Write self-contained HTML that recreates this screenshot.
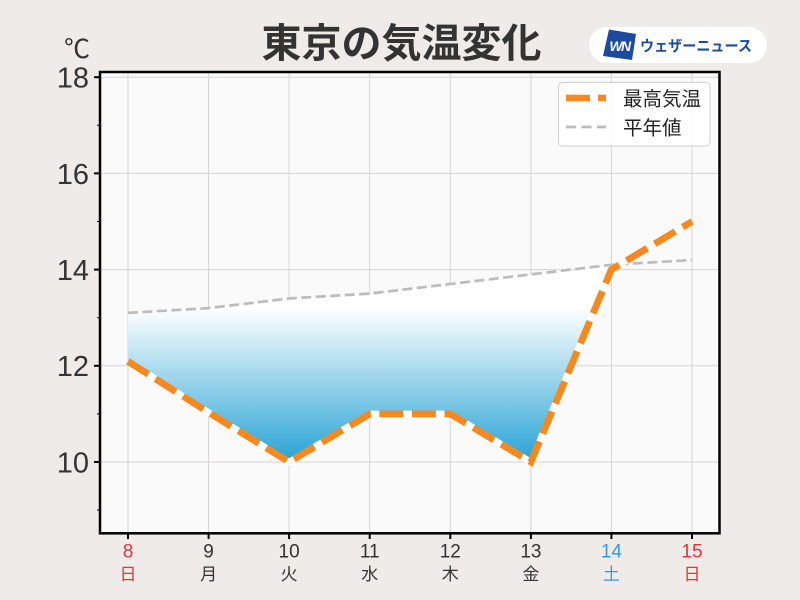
<!DOCTYPE html>
<html><head><meta charset="utf-8"><style>
html,body{margin:0;padding:0;background:#eeebe9;}
svg{display:block;}
</style></head><body>
<svg width="800" height="600" viewBox="0 0 800 600" xmlns="http://www.w3.org/2000/svg">
<defs>
<linearGradient id="g" gradientUnits="userSpaceOnUse" x1="0" y1="265" x2="0" y2="462">
<stop offset="0" stop-color="#ffffff"/>
<stop offset="0.22" stop-color="#ffffff"/>
<stop offset="1" stop-color="#27a3d5"/>
</linearGradient>
<clipPath id="ax"><rect x="100" y="72" width="619.5" height="461.3"/></clipPath>
</defs>
<rect width="800" height="600" fill="#eeebe9"/>
<rect x="100" y="72" width="619.5" height="461.3" fill="#fbfafa"/>
<g stroke="#d6d3d3" stroke-width="1">
<line x1="128" y1="72" x2="128" y2="533"/>
<line x1="208.6" y1="72" x2="208.6" y2="533"/>
<line x1="289.1" y1="72" x2="289.1" y2="533"/>
<line x1="369.7" y1="72" x2="369.7" y2="533"/>
<line x1="450.3" y1="72" x2="450.3" y2="533"/>
<line x1="530.9" y1="72" x2="530.9" y2="533"/>
<line x1="611.4" y1="72" x2="611.4" y2="533"/>
<line x1="692" y1="72" x2="692" y2="533"/>
<line x1="100" y1="77.2" x2="720" y2="77.2"/>
<line x1="100" y1="173.4" x2="720" y2="173.4"/>
<line x1="100" y1="269.6" x2="720" y2="269.6"/>
<line x1="100" y1="365.8" x2="720" y2="365.8"/>
<line x1="100" y1="462" x2="720" y2="462"/>
</g>
<g clip-path="url(#ax)">
<polygon fill="url(#g)" points="128,314 208.6,309 289.1,299.5 369.7,294.6 450.3,285 530.9,275.4 607.6,266.3 530.9,462 450.3,413.9 369.7,413.9 289.1,462 208.6,412.5 128,361.4"/>
<polyline fill="none" stroke="#bdbbbb" stroke-width="2.7" stroke-dasharray="10,4.5" points="128,312.9 208.6,308.1 289.1,298.5 369.7,293.6 450.3,284 530.9,274.4 611.4,264.8 692,260"/>
<polyline fill="none" stroke="#ffffff" stroke-width="6.5" stroke-linejoin="round" points="128,361.4 208.6,412.5 289.1,462 369.7,413.9 450.3,413.9 530.9,462 611.4,269.6 692,221.5"/>
<polyline fill="none" stroke="#f5881e" stroke-width="6.8" stroke-dasharray="24,8.6" points="128,361.4 208.6,412.5 289.1,462 369.7,413.9 450.3,413.9 530.9,462 611.4,269.6 692,221.5"/>
</g>
<rect x="100" y="72" width="619.5" height="461.3" fill="none" stroke="#000" stroke-width="2.5"/>
<g stroke="#000" stroke-width="2">
<line x1="94" y1="77.2" x2="100" y2="77.2"/>
<line x1="94" y1="173.4" x2="100" y2="173.4"/>
<line x1="94" y1="269.6" x2="100" y2="269.6"/>
<line x1="94" y1="365.8" x2="100" y2="365.8"/>
<line x1="94" y1="462" x2="100" y2="462"/>
<line x1="128" y1="533" x2="128" y2="539"/>
<line x1="208.6" y1="533" x2="208.6" y2="539"/>
<line x1="289.1" y1="533" x2="289.1" y2="539"/>
<line x1="369.7" y1="533" x2="369.7" y2="539"/>
<line x1="450.3" y1="533" x2="450.3" y2="539"/>
<line x1="530.9" y1="533" x2="530.9" y2="539"/>
<line x1="611.4" y1="533" x2="611.4" y2="539"/>
<line x1="692" y1="533" x2="692" y2="539"/>
</g>
<g stroke="#000" stroke-width="1">
<line x1="97" y1="125.3" x2="100" y2="125.3"/>
<line x1="97" y1="221.5" x2="100" y2="221.5"/>
<line x1="97" y1="317.7" x2="100" y2="317.7"/>
<line x1="97" y1="413.9" x2="100" y2="413.9"/>
<line x1="97" y1="510.1" x2="100" y2="510.1"/>
</g>
<g font-family="Liberation Sans, sans-serif" font-size="29" fill="#333" text-anchor="end">
<text x="89" y="87.6">18</text>
<text x="89" y="183.8">16</text>
<text x="89" y="280">14</text>
<text x="89" y="376.2">12</text>
<text x="89" y="472.4">10</text>
</g>
<text x="90" y="58" font-family="'Noto Sans CJK JP', sans-serif" font-size="26" fill="#333" text-anchor="end">℃</text>
<g font-family="Liberation Sans, sans-serif" font-size="19" text-anchor="middle" fill="#333">
<text x="128" y="557.7" fill="#e0353c">8</text>
<text x="208.6" y="557.7">9</text>
<text x="289.1" y="557.7">10</text>
<text x="369.7" y="557.7">11</text>
<text x="450.3" y="557.7">12</text>
<text x="530.9" y="557.7">13</text>
<text x="611.4" y="557.7" fill="#3399e3">14</text>
<text x="692" y="557.7" fill="#e0353c">15</text>
</g>
<g font-family="Liberation Sans, 'Noto Sans CJK JP', sans-serif" font-size="17" text-anchor="middle" fill="#333">
<text x="128" y="580" fill="#e0353c">日</text>
<text x="208.6" y="580">月</text>
<text x="289.1" y="580">火</text>
<text x="369.7" y="580">水</text>
<text x="450.3" y="580">木</text>
<text x="530.9" y="580">金</text>
<text x="611.4" y="580" fill="#3399e3">土</text>
<text x="692" y="580" fill="#e0353c">日</text>
</g>
<rect x="558.5" y="82.5" width="151.5" height="63.5" rx="4" fill="#ffffff" fill-opacity="0.85" stroke="#d0cece" stroke-width="1"/>
<line x1="566" y1="98" x2="606" y2="98" stroke="#f5881e" stroke-width="6.5" stroke-dasharray="24,8"/>
<line x1="566" y1="127" x2="606" y2="127" stroke="#bdbbbb" stroke-width="2.7" stroke-dasharray="10,5.5"/>
<g font-family="Liberation Sans, 'Noto Sans CJK JP', sans-serif" font-size="19.5" fill="#222">
<text x="623" y="105.5">最高気温</text>
<text x="623" y="134.5">平年値</text>
</g>
<text x="401.5" y="57" font-family="Liberation Sans, 'Noto Sans CJK JP', sans-serif" font-size="40" font-weight="bold" fill="#333" text-anchor="middle">東京の気温変化</text>
<rect x="589" y="27" width="178" height="36" rx="18" fill="#ffffff"/>
<polygon points="609,29.5 636,34 632,60 603,56" fill="#1b4a9e"/>
<text x="619.5" y="51" font-family="Liberation Sans, sans-serif" font-size="14" font-weight="bold" font-style="italic" fill="#ffffff" text-anchor="middle" letter-spacing="-1.5">WN</text>
<text x="640" y="51" font-family="Liberation Sans, 'Noto Sans CJK JP', sans-serif" font-size="15" font-weight="bold" fill="#1b4a9e" textLength="112" lengthAdjust="spacingAndGlyphs">ウェザーニュース</text>
</svg>
</body></html>
